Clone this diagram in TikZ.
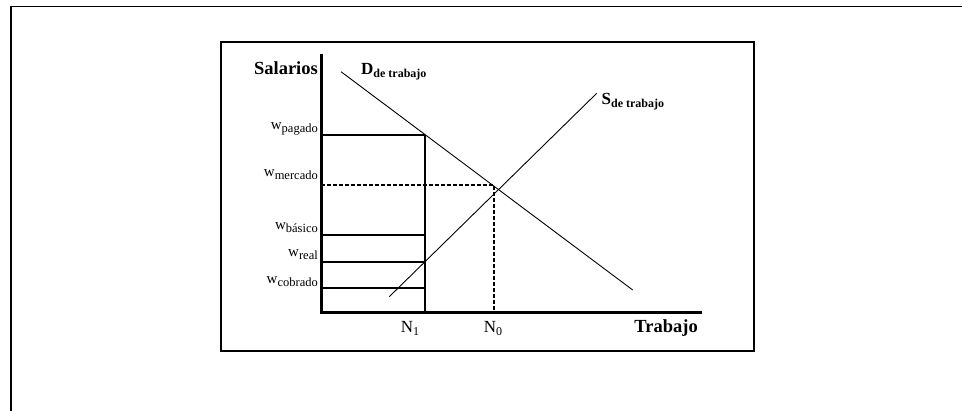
\documentclass[tikz,border=0pt]{standalone}
\usepackage{fontspec}
\setmainfont{Liberation Serif}
\usetikzlibrary{positioning}
\newcommand{\lowsub}[2][11]{\raisebox{-3pt}{\fontsize{#1}{#1}\selectfont #2}}

\begin{document}
\begin{tikzpicture}[
  x=1pt, y=-1pt,
  every node/.style={inner sep=0pt, font=\fontsize{15}{17}\selectfont},
  frame/.style={line width=1.4pt},
  axis/.style={line width=3pt},
  wagebar/.style={line width=2pt},
  market/.style={line width=2pt, dash pattern=on 4pt off 2pt},
  curve/.style={line width=0.9pt},
  title/.style={font=\bfseries\fontsize{18.5}{20}\selectfont},
  curvelabel/.style={anchor=base west, font=\bfseries\fontsize{17}{19}\selectfont},
  qlabel/.style={anchor=base, font=\fontsize{17}{19}\selectfont}
]
\useasboundingbox (0,0) rectangle (962,411);
\coordinate (FB) at (11,411);
\coordinate (FC) at (11,6.5);
\coordinate (FR) at (962,6.5);
\draw[frame] (FB) -- (FC) -- (FR);
\draw[line width=1.2pt] (221,42) rectangle (754,351);
\coordinate (O) at (321,312.5);
\coordinate (Ytop) at (321,54);
\coordinate (Xend) at (702,312.5);
\draw[axis] (Ytop) -- (O) -- (Xend);
\coordinate (N1) at (425,312.5);
\coordinate (P) at (425,135);
\draw[wagebar] (N1) -- (P);
\foreach \lev/\sub/\lift [count=\i] in
  {135/pagado/5, 235/b\'asico/5, 261.7/real/5, 288/cobrado/4.7}{
  \coordinate (L\i) at (321,\lev);
  \coordinate (R\i) at (425,\lev);
  \draw[wagebar] (L\i) -- (R\i);
  \node[anchor=base east] (w\i) at (318,\lev-\lift)
    {w\lowsub[12.5]{\sub}};
}
\coordinate (M) at (321,185.5);
\coordinate (E) at (494,185.5);
\coordinate (N0) at (494,312.5);
\draw[market] (M) -- (E) -- (N0);
\node[anchor=base east] (wm) at (318,176.5) {w\lowsub[12.5]{mercado}};
\coordinate (D1) at (341,71.7);
\coordinate (D2) at (632.7,290);
\coordinate (S1) at (389.3,296.7);
\coordinate (S2) at (596.7,93.3);
\draw[curve] (D1) -- (D2);
\draw[curve] (S1) -- (S2);
\node[title, anchor=base east] (salarios) at (318,75) {Salarios};
\node[title, anchor=base east] (trabajo) at (698,333) {Trabajo};
\node[curvelabel] (dlab) at (361,75) {D\lowsub[12]{de trabajo}};
\node[curvelabel] (slab) at (601.5,105) {S\lowsub[12]{de trabajo}};
\node[qlabel] (n1lab) at (410,333) {N\lowsub[12]{1}};
\node[qlabel] (n0lab) at (493,333) {N\lowsub[12]{0}};
\end{tikzpicture}
\end{document}
